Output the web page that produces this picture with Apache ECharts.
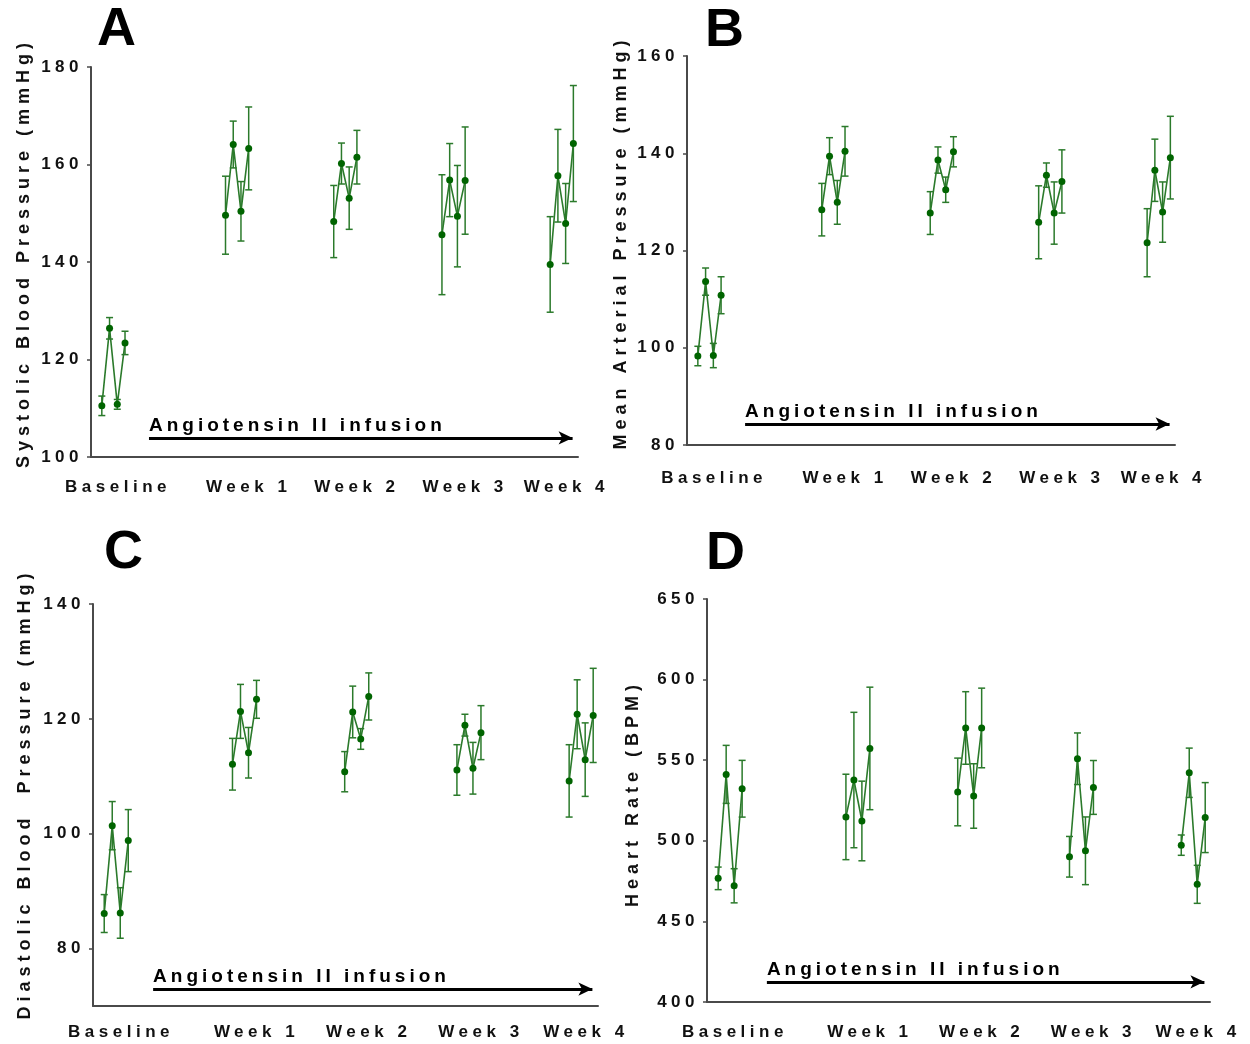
<!DOCTYPE html>
<html>
<head>
<meta charset="utf-8">
<script src="https://cdn.jsdelivr.net/npm/echarts@6/dist/echarts.min.js"></script>
<style>
  body { margin: 0; background: #fff; }
  #chart { width: 1250px; height: 1044px; }
</style>
</head>
<body>
<div id="chart"></div>
<script>
// groups on the x axis, 4 animals/points per group
const groups = ['Baseline', 'Week 1', 'Week 2', 'Week 3', 'Week 4'];
const groupX = [0, 16, 30, 44, 58];
const groupLabelX = [2.1, 19, 33, 47, 60.1];
const arrowText = 'Angiotensin II infusion';

// A - systolic
const sbpTicks = [100, 120, 140, 160, 180];
const sbpMean = [110.5, 126.4, 110.8, 123.4, 149.6, 164.1, 150.4, 163.3, 148.3, 160.2, 153.1, 161.5, 145.6, 156.8, 149.4, 156.7, 139.5, 157.7, 147.9, 164.3];
const sbpErr = [2.0, 2.2, 1.0, 2.4, 8.0, 4.8, 6.1, 8.5, 7.4, 4.2, 6.4, 5.5, 12.3, 7.5, 10.4, 11.0, 9.8, 9.5, 8.2, 11.9];
// B - mean arterial
const mapTicks = [80, 100, 120, 140, 160];
const mapMean = [98.3, 113.6, 98.4, 110.8, 128.4, 139.4, 129.9, 140.4, 127.7, 138.6, 132.5, 140.3, 125.8, 135.5, 127.7, 134.2, 121.6, 136.5, 127.9, 139.1];
const mapErr = [2.0, 2.8, 2.5, 3.8, 5.4, 3.8, 4.5, 5.1, 4.4, 2.7, 2.6, 3.1, 7.5, 2.5, 6.4, 6.5, 7.0, 6.4, 6.2, 8.5];
// C - diastolic
const dbpTicks = [80, 100, 120, 140];
const dbpMean = [86.1, 101.4, 86.2, 98.8, 112.1, 121.3, 114.1, 123.4, 110.8, 121.2, 116.5, 123.9, 111.1, 118.9, 111.4, 117.6, 109.2, 120.8, 112.9, 120.6];
const dbpErr = [3.3, 4.2, 4.4, 5.4, 4.5, 4.7, 4.4, 3.3, 3.5, 4.5, 1.8, 4.1, 4.4, 1.9, 4.5, 4.7, 6.3, 6.0, 6.4, 8.2];
// D - heart rate
const hrTicks = [400, 450, 500, 550, 600, 650];
const hrMean = [476.7, 541.2, 472.1, 532.3, 514.8, 537.7, 512.3, 557.3, 530.3, 570.0, 527.8, 570.0, 490.1, 550.9, 493.8, 533.1, 497.3, 542.2, 473.0, 514.4];
const hrErr = [7, 18, 10.6, 17.6, 26.5, 42, 24.7, 38, 21, 22.5, 20, 24.7, 12.6, 16, 21, 16.7, 6.3, 15.3, 11.8, 21.7];

// wide letter spacing like the original figure (canvas letterSpacing, by font size)
const spacing = { 17: 4.5, 18: 5, 19: 4 };
const origFill = CanvasRenderingContext2D.prototype.fillText;
const origMeasure = CanvasRenderingContext2D.prototype.measureText;
function applySpacing(ctx) {
    const m = /(\d+)px/.exec(ctx.font);
    ctx.letterSpacing = (spacing[m && m[1]] || 0) + 'px';
}
CanvasRenderingContext2D.prototype.fillText = function () {
    applySpacing(this);
    return origFill.apply(this, arguments);
};
CanvasRenderingContext2D.prototype.measureText = function () {
    applySpacing(this);
    return origMeasure.apply(this, arguments);
};

const FONT = '"Liberation Sans", Arial, sans-serif';
const XMIN = -1.4, XMAX = 61.6;
const LINE = '#2b7a2b', DOT = '#006400', AXIS = '#4a4a4a';

const panels = [
    { letter: 'A', title: 'Systolic Blood Pressure (mmHg)', ticks: sbpTicks, mean: sbpMean, err: sbpErr, min: 100, max: 180,
      grid: { left: 91, top: 67, width: 487, height: 390 }, nameGap: 55, catMargin: 20, titlePad: 18, arrowAt: 0.049, pos: [97, 3] },
    { letter: 'B', title: 'Mean Arterial Pressure (mmHg)', ticks: mapTicks, mean: mapMean, err: mapErr, min: 80, max: 160,
      grid: { left: 687, top: 56, width: 488, height: 389 }, nameGap: 54, catMargin: 23, titlePad: 16, arrowAt: 0.054, pos: [705, 4] },
    { letter: 'C', title: 'Diastolic Blood  Pressure (mmHg)', ticks: dbpTicks, mean: dbpMean, err: dbpErr, min: 70, max: 140,
      grid: { left: 93, top: 604, width: 505, height: 402 }, nameGap: 56, catMargin: 16, titlePad: 22, arrowAt: 0.042, pos: [104, 526] },
    { letter: 'D', title: 'Heart Rate (BPM)', ticks: hrTicks, mean: hrMean, err: hrErr, min: 400, max: 650,
      grid: { left: 707, top: 599, width: 503, height: 403 }, nameGap: 62, catMargin: 20, titlePad: 14, arrowAt: 0.05, pos: [706, 527] }
];

function lineData(mean) {
    const out = [];
    groups.forEach((g, gi) => {
        if (gi) out.push(['-', '-']);
        for (let i = 0; i < 4; i++) out.push([groupX[gi] + i, mean[gi * 4 + i]]);
    });
    return out;
}

function errData(mean, err) {
    const out = [];
    groups.forEach((g, gi) => {
        for (let i = 0; i < 4; i++) out.push([groupX[gi] + i, mean[gi * 4 + i], err[gi * 4 + i]]);
    });
    return out;
}

function renderErr(params, api) {
    const x = api.value(0), y = api.value(1), e = api.value(2);
    const hi = api.coord([x, y + e]);
    const lo = api.coord([x, y - e]);
    const w = 3.5;
    const st = { stroke: LINE, lineWidth: 1.5 };
    return {
        type: 'group',
        children: [
            { type: 'line', shape: { x1: hi[0], y1: hi[1], x2: lo[0], y2: lo[1] }, style: st },
            { type: 'line', shape: { x1: hi[0] - w, y1: hi[1], x2: hi[0] + w, y2: hi[1] }, style: st },
            { type: 'line', shape: { x1: lo[0] - w, y1: lo[1], x2: lo[0] + w, y2: lo[1] }, style: st }
        ]
    };
}

const option = {
    animation: false,
    backgroundColor: '#fff',
    grid: panels.map(p => Object.assign({ outerBoundsMode: 'none' }, p.grid)),
    xAxis: panels.map((p, i) => ({
        gridIndex: i,
        type: 'value',
        min: XMIN,
        max: XMAX,
        splitLine: { show: false },
        axisTick: { show: false },
        axisLine: { show: true, onZero: false, lineStyle: { color: AXIS, width: 2 } },
        axisLabel: {
            customValues: groupLabelX,
            formatter: v => groups[groupLabelX.findIndex(x => Math.abs(x - v) < 0.01)] || '',
            margin: p.catMargin,
            color: '#111',
            fontFamily: FONT,
            fontSize: 17,
            fontWeight: 'bold'
        }
    })),
    yAxis: panels.map((p, i) => ({
        gridIndex: i,
        type: 'value',
        min: p.min,
        max: p.max,
        splitLine: { show: false },
        axisLine: { show: true, onZero: false, lineStyle: { color: AXIS, width: 2 } },
        axisTick: { show: true, length: 4, customValues: p.ticks, lineStyle: { color: AXIS, width: 1.5 } },
        axisLabel: {
            customValues: p.ticks,
            margin: 8,
            color: '#111',
            fontFamily: FONT,
            fontSize: 17,
            fontWeight: 'bold'
        },
        name: p.title,
        nameLocation: 'middle',
        nameRotate: 90,
        nameGap: p.nameGap,
        nameTextStyle: {
            color: '#111',
            fontFamily: FONT,
            fontSize: 18,
            fontWeight: 'bold',
            padding: [0, 0, 0, p.titlePad]
        }
    })),
    series: [],
    graphic: panels.map(p => ({
        type: 'text',
        left: p.pos[0],
        top: p.pos[1],
        style: { text: p.letter, font: 'bold 54px ' + FONT, fill: '#000' }
    }))
};

panels.forEach((p, i) => {
    const ay = p.min + p.arrowAt * (p.max - p.min);
    option.series.push({
        type: 'custom',
        xAxisIndex: i,
        yAxisIndex: i,
        renderItem: renderErr,
        encode: { x: 0, y: 1 },
        data: errData(p.mean, p.err),
        z: 2
    });
    option.series.push({
        type: 'line',
        xAxisIndex: i,
        yAxisIndex: i,
        data: lineData(p.mean),
        connectNulls: false,
        symbol: 'circle',
        symbolSize: 7,
        itemStyle: { color: DOT },
        lineStyle: { color: LINE, width: 1.6 },
        z: 3,
        markLine: {
            silent: true,
            animation: false,
            symbol: ['none', 'arrow'],
            symbolSize: [10, 14],
            lineStyle: { color: '#000', width: 3, type: 'solid' },
            label: {
                show: true,
                position: 'insideStartTop',
                formatter: arrowText,
                distance: [0, 1],
                color: '#000',
                fontFamily: FONT,
                fontSize: 19,
                fontWeight: 'bold'
            },
            data: [[{ coord: [6.1, ay] }, { coord: [XMAX - 0.7, ay] }]]
        }
    });
});

const myChart = echarts.init(document.getElementById('chart'));
myChart.setOption(option);
</script>
</body>
</html>
